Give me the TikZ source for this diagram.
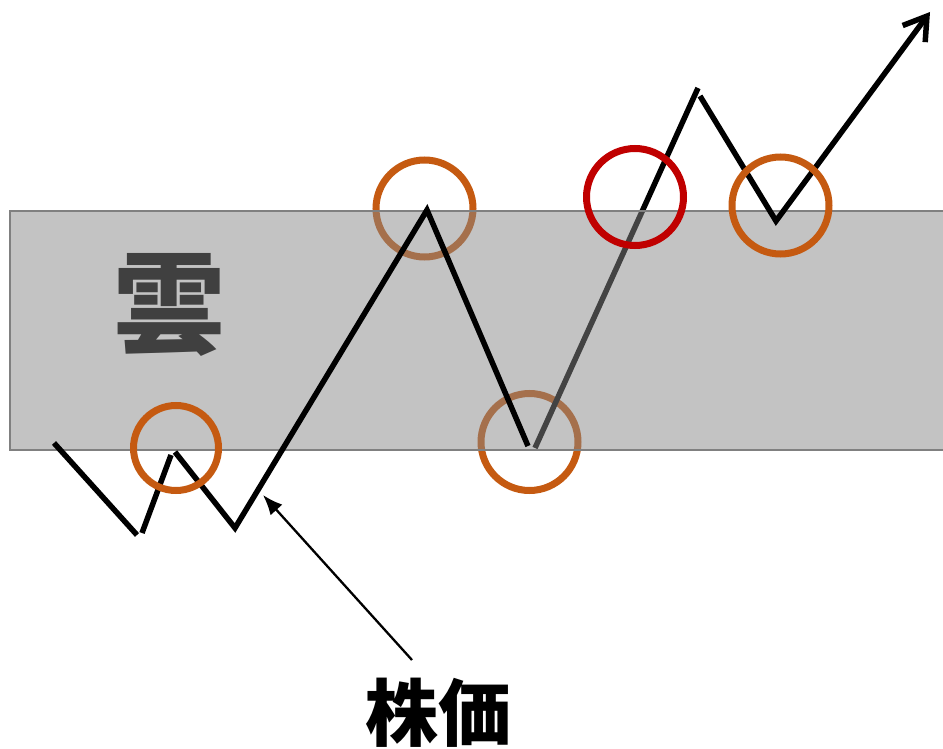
\documentclass[tikz,border=0pt]{standalone}
\usepackage{fontspec}
\newfontfamily\cjk{Noto Sans CJK JP}
\usetikzlibrary{arrows.meta}
\definecolor{ring}{RGB}{197,90,17}
\definecolor{alarm}{RGB}{192,0,0}
\definecolor{cloudfill}{RGB}{135,135,135}
\definecolor{cloudedge}{RGB}{128,128,128}
\definecolor{cloudtext}{RGB}{64,64,64}
\tikzset{
  price/.style={line width=5.5pt, line cap=butt, line join=miter},
  mark ring/.style={draw=ring, line width=7pt},
}
\begin{document}
\begin{tikzpicture}[x=1pt, y=-1pt]
\useasboundingbox (0,0) rectangle (943,749);

% price points
\coordinate (p0) at (54,443);
\coordinate (p1) at (137,535);
\coordinate (p2) at (142,533);
\coordinate (p3) at (171,455);
\coordinate (p4) at (175,452);
\coordinate (p5) at (235,528);
\coordinate (p6) at (427,210);
\coordinate (p7) at (528,446);
\coordinate (p8) at (535,448);
\coordinate (p9) at (698,88);
\coordinate (p10) at (700,96);
\coordinate (p11) at (776,221);
\coordinate (p12) at (930,12);

% under the cloud
\draw[mark ring] (424.5,208.5) circle[radius=48.5pt];
\draw[mark ring] (529.5,442) circle[radius=48.5pt];
\draw[price] (p8) -- (p9);

% cloud
\fill[cloudfill, fill opacity=0.5] (10,211) rectangle (943,450);
\draw[cloudedge, line width=2pt] (943,211) -- (10,211) -- (10,450) -- (943,450);
\node[text=cloudtext, font=\cjk\bfseries\fontsize{112}{112}\selectfont] (kumo) at (169,305) {雲};

\draw[price] (p0) -- (p1);
\draw[price] (p2) -- (p3);
\draw[price] (p4) -- (p5) -- (p6) -- (p7);
\draw[price, -{Straight Barb[length=22pt, width=28pt, line width=5.5pt]}] (p10) -- (p11) -- (p12);

\draw[draw=ring, line width=7pt] (176,448) circle[radius=42.5pt];
\draw[draw=alarm, line width=7pt] (635,197) circle[radius=48.5pt];
\draw[mark ring] (780.5,205.5) circle[radius=48.5pt];

% label
\node[font=\cjk\bfseries\fontsize{73}{73}\selectfont] (kabuka) at (438,713) {株価};
\coordinate (kabukatop) at (412,660);
\coordinate (tip) at (263,495);
\draw[line width=2.3pt, -{Latex[length=20pt, width=16pt]}] (kabukatop) -- (tip);

\end{tikzpicture}
\end{document}
